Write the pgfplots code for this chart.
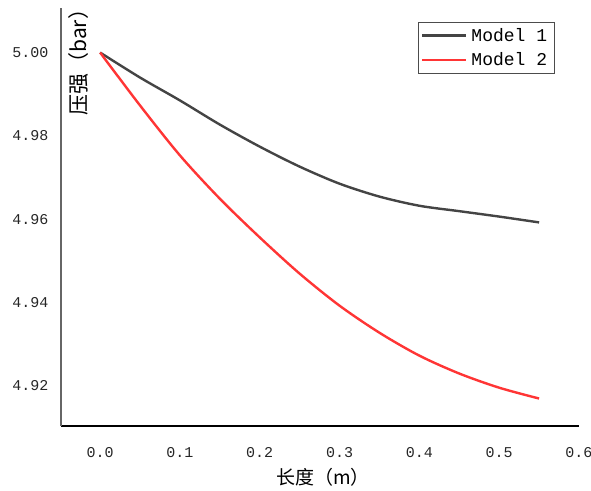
\documentclass[border=0pt]{standalone}
\usepackage{fontspec}
\setmainfont{Liberation Mono}
\newfontfamily\cjk{Noto Sans CJK SC}
\usepackage{pgfplots}
\pgfplotsset{compat=1.18}
\definecolor{mgray}{HTML}{444444}
\definecolor{mred}{HTML}{FF3535}
\pgfplotstableread{
x y
0.00 5.0000
0.05 4.9940
0.10 4.9885
0.15 4.9827
0.20 4.9774
0.25 4.9726
0.30 4.9685
0.35 4.9654
0.40 4.9632
0.45 4.9619
0.50 4.9606
0.55 4.9592
}\modelone
\pgfplotstableread{
x y
0.00 5.0000
0.05 4.9873
0.10 4.9753
0.15 4.9649
0.20 4.9556
0.25 4.9469
0.30 4.9392
0.35 4.9327
0.40 4.9272
0.45 4.9229
0.50 4.9195
0.55 4.9169
}\modeltwo
\begin{document}
\begin{tikzpicture}
\begin{axis}[
  scale only axis, width=518pt, height=418pt,
  xmin=-0.049, xmax=0.6, ymin=4.9103, ymax=5.0107,
  axis lines*=left,
  x axis line style={black, line width=1.3pt},
  y axis line style={black!60, line width=1.2pt},
  major tick length=0pt,
  xtick={0,0.1,0.2,0.3,0.4,0.5,0.6},
  ytick={4.92,4.94,4.96,4.98,5.00},
  /pgf/number format/assume math mode=true,
  xticklabel style={/pgf/number format/fixed, /pgf/number format/fixed zerofill, /pgf/number format/precision=1, yshift=-18pt},
  yticklabel style={/pgf/number format/fixed, /pgf/number format/fixed zerofill, /pgf/number format/precision=2, xshift=-9pt},
  ticklabel style={font=\fontsize{15}{15}\selectfont, text=black!85},
  xlabel={{\cjk 长度（m）}},
  xlabel style={font=\fontsize{19}{19}\selectfont, inner sep=0pt, at={(axis description cs:0.506,-0.1)}, anchor=north},
  ylabel={{\cjk 压强（bar）}},
  ylabel style={font=\fontsize{21}{21}\selectfont, inner sep=0pt, at={(axis description cs:0.0135,1.022)}, anchor=north east},
  legend style={at={(rel axis cs:0.689,0.966)}, anchor=north west, draw=black!70, font=\fontsize{18}{18}\selectfont, inner xsep=3pt, inner ysep=5pt, row sep=8pt, nodes={inner xsep=4pt, inner ysep=1pt}},
  legend cell align=left,
  legend image code/.code={\draw[#1] (0pt,0pt) -- (44pt,0pt);},
  clip=false,
]
\addplot[mgray, line width=2.4pt, smooth] table {\modelone};
\addlegendentry{Model 1}
\addplot[mred, line width=2.4pt, smooth] table {\modeltwo};
\addlegendentry{Model 2}
\end{axis}
\pgfresetboundingbox
\path ([shift={(-61pt,-65pt)}]current axis.south west) rectangle ([shift={(12pt,8pt)}]current axis.north east);
\end{tikzpicture}
\end{document}
